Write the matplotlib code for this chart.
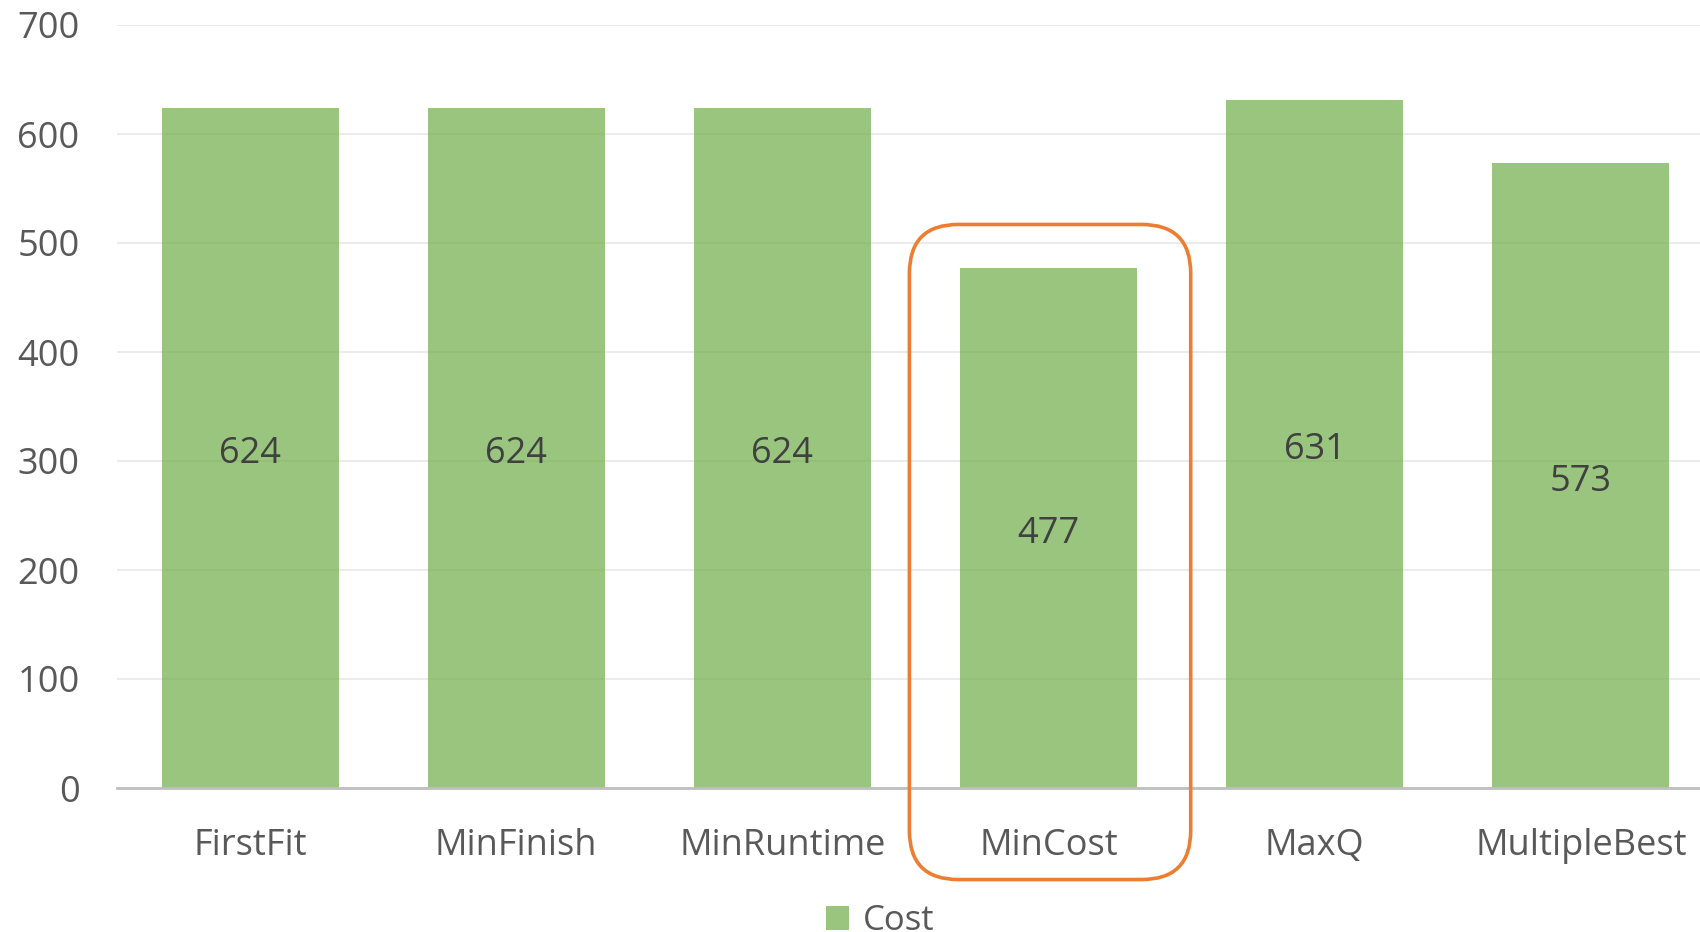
import matplotlib.pyplot as plt
from matplotlib.patches import FancyBboxPatch, Patch

plt.rcParams["font.family"] = ["Open Sans", "DejaVu Sans"]

categories = ["FirstFit", "MinFinish", "MinRuntime", "MinCost", "MaxQ", "MultipleBest"]
cost = [624, 624, 624, 477, 631, 573]
y_ticks = [0, 100, 200, 300, 400, 500, 600, 700]
highlight = "MinCost"

fig = plt.figure(figsize=(17, 9.32), dpi=100)
ax = fig.add_axes([117 / 1700, (932 - 788) / 932, (1714 - 117) / 1700, (788 - 25) / 932])

x = list(range(len(categories)))
bars = ax.bar(x, cost, width=0.665, color="#70AD47", alpha=0.7, zorder=2)

for rect, v in zip(bars, cost):
    ax.annotate(str(v), (rect.get_x() + rect.get_width() / 2, v / 2),
                xytext=(0, -4.5), textcoords="offset points",
                ha="center", va="center", fontsize=26, color="#404040", zorder=3)

ax.set_xlim(-0.5, len(categories) - 0.5)
ax.set_ylim(0, 700)
ax.set_yticks(y_ticks)
ax.set_xticks(x, categories)
ax.grid(axis="y", color="#EBEBEB", linewidth=1.5, zorder=0)
for s in ["top", "right", "left"]:
    ax.spines[s].set_visible(False)
ax.spines["bottom"].set_color("#BFBFBF")
ax.spines["bottom"].set_linewidth(2)
ax.tick_params(axis="both", length=0, labelsize=26, labelcolor="#595959")
ax.tick_params(axis="y", pad=27)
ax.tick_params(axis="x", pad=29)

# rounded highlight box around MinCost (bar + label)
i = categories.index(highlight)
px_per_x = 266.0
px_per_y = (788 - 25) / 700.0
box = FancyBboxPatch((i - 0.523, -84), 1.057, 601,
                     boxstyle="round,pad=0,rounding_size=%f" % (49 / px_per_x),
                     mutation_aspect=px_per_x / px_per_y,
                     fill=False, edgecolor="#ED7D31", linewidth=2.6,
                     clip_on=False, zorder=4)
ax.add_patch(box)

fig.legend(handles=[Patch(facecolor="#70AD47", alpha=0.7, label="Cost")],
           loc="center", bbox_to_anchor=(880 / 1700, 1 - 921 / 932),
           frameon=False, fontsize=25, labelcolor="#595959",
           handlelength=0.65, handleheight=0.7, handletextpad=0.4)

fig.savefig("out.png", dpi=100)
